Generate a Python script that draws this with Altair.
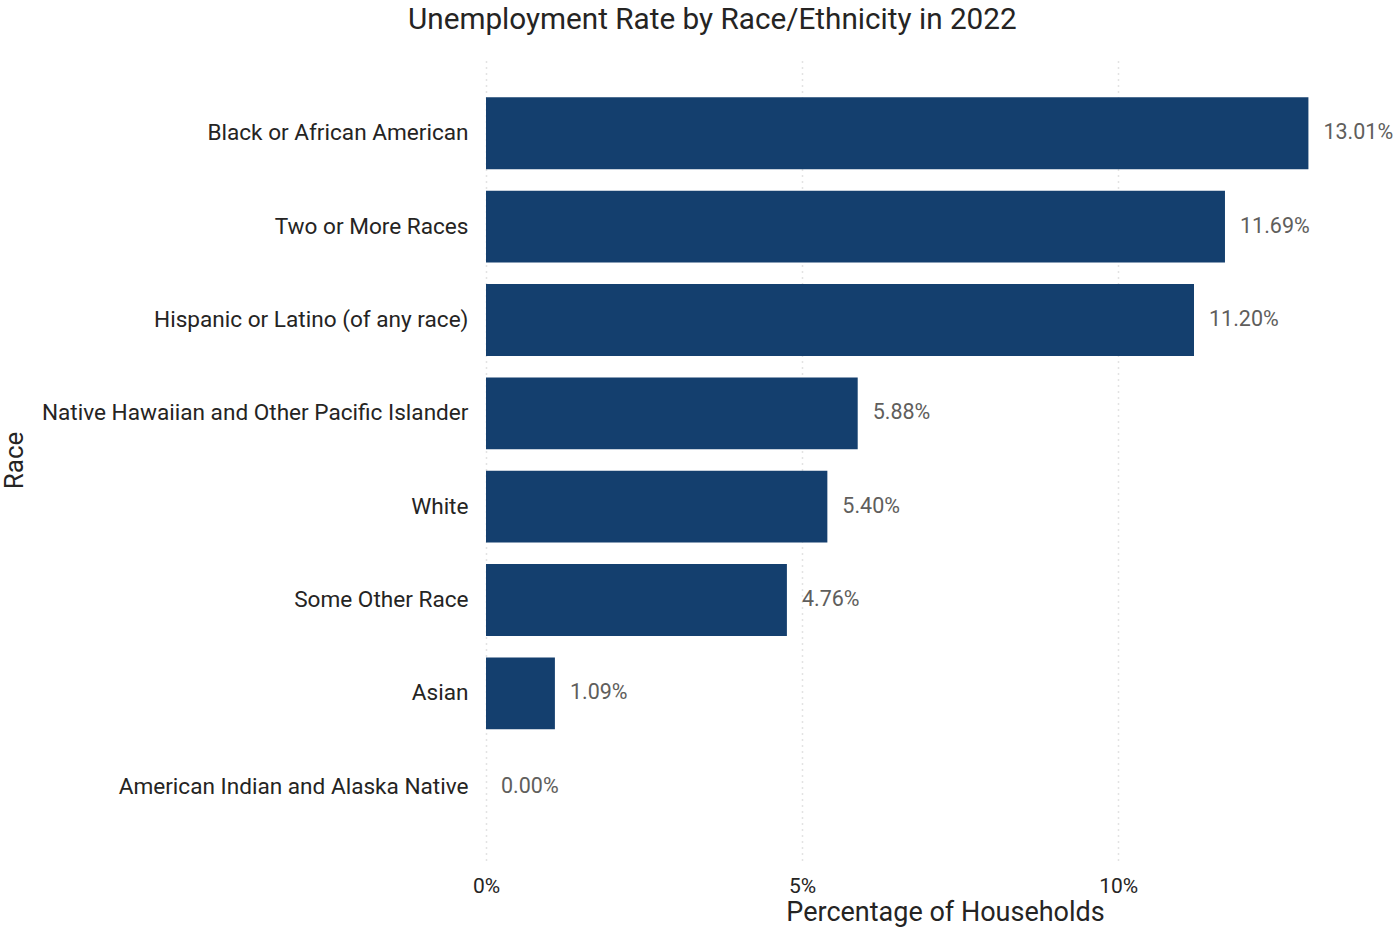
import altair as alt
import pandas as pd

races = [
    "Black or African American",
    "Two or More Races",
    "Hispanic or Latino (of any race)",
    "Native Hawaiian and Other Pacific Islander",
    "White",
    "Some Other Race",
    "Asian",
    "American Indian and Alaska Native",
]
rates = [0.1301, 0.1169, 0.1120, 0.0588, 0.0540, 0.0476, 0.0109, 0.0000]

df = pd.DataFrame({"Race": races, "Rate": rates})

FONT = "Roboto"
y_enc = alt.Y(
    "Race:N",
    sort=races,
    title="Race",
    scale=alt.Scale(paddingInner=0.23, paddingOuter=0.4),
    axis=alt.Axis(
        labelFont=FONT, labelFontSize=22.6, labelColor="#252423", labelPadding=18,
        ticks=False, domain=False, grid=False, labelLimit=500,
        titleFont=FONT, titleFontSize=26, titleFontWeight="normal", titleColor="#252423",
        titleX=-472, titleY=400, titleAngle=-90, titleAlign="center", titleBaseline="middle",
    ),
)
x_enc = alt.X(
    "Rate:Q",
    title="Percentage of Households",
    scale=alt.Scale(domain=[0, 0.14], nice=False),
    axis=alt.Axis(
        values=[0, 0.05, 0.10], format=".0%", labelFlush=False,
        labelFont=FONT, labelFontSize=21, labelColor="#252423", labelPadding=15,
        ticks=False, domain=False, grid=True, gridColor="#C8C8C8", gridDash=[1, 5],
        gridWidth=1.5,
        titleFont=FONT, titleFontSize=27, titleFontWeight="normal", titleColor="#252423",
        titleX=459, titleY=52, titleAlign="center", titleBaseline="middle",
    ),
)

bars = alt.Chart(df).mark_bar(color="#143F6E").encode(x=x_enc, y=y_enc)
labels = alt.Chart(df).mark_text(
    align="left", baseline="middle", dx=15, font=FONT, fontSize=21.5, color="#605E5C"
).encode(
    x="Rate:Q", y=alt.Y("Race:N", sort=races), text=alt.Text("Rate:Q", format=".2%")
)

chart = (
    alt.layer(bars, labels)
    .properties(
        width=885,
        height=800,
        padding={"left": 486, "top": 60, "right": 26, "bottom": 70},
        autosize="none",
        title=alt.TitleParams(
            "Unemployment Rate by Race/Ethnicity in 2022",
            font=FONT, fontSize=29.7, fontWeight="normal", color="#252423",
            anchor="start", frame="group", dx=-78, dy=-20,
        ),
    )
    .configure_view(stroke=None)
)

chart.save("out.html", embed_options={"renderer": "svg", "actions": False})
